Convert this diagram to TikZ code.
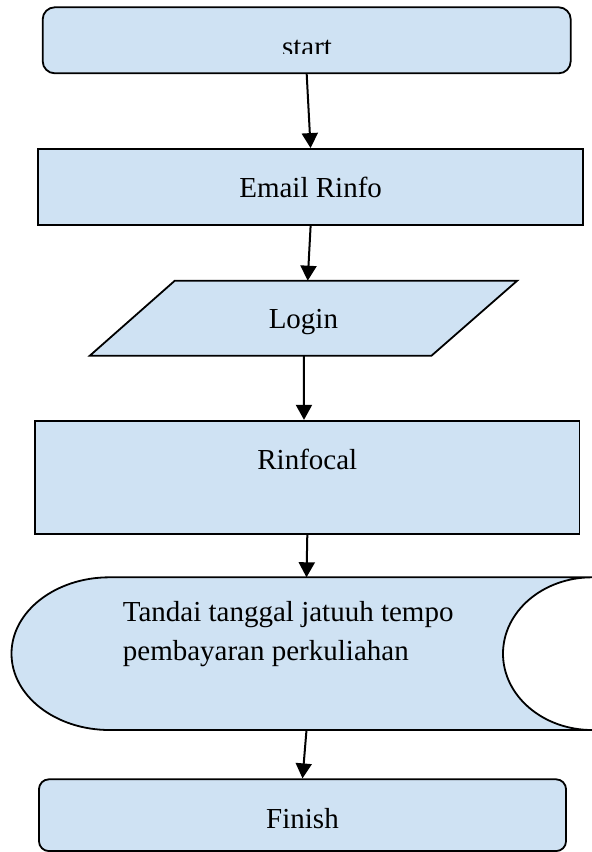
\documentclass[tikz,border=0pt]{standalone}
\usepackage{fontspec}
\setmainfont{Liberation Serif}
\usepackage{tikz}
\usetikzlibrary{arrows.meta}
\definecolor{boxblue}{RGB}{207,226,243}
\tikzset{
	box/.style={draw=black, fill=boxblue, line width=1.8pt},
	procbox/.style={box, rectangle, inner sep=0pt, text height=20pt, text depth=0pt},
	termbox/.style={procbox, rounded corners=12pt},
	arr/.style={-{Triangle[width=16pt,length=15pt]}, line width=2pt},
}
\begin{document}
\begin{tikzpicture}[x=1pt, y=-1pt, font=\fontsize{29}{38.3}\selectfont]
			%%%%% START %%%%%
			\useasboundingbox (0, 0) rectangle (592, 852);
			
			\node[termbox, minimum width=528pt, minimum height=66pt] (start) at (306.7, 40.3) {};
			\begin{scope}
				\clip (250, 30) rectangle (370, 53.3);
				\node[anchor=base, inner sep=0pt] (starttext) at (307, 56) {start};
			\end{scope}
			
			\node[procbox, minimum width=544.7pt, minimum height=76pt] (email) at (310.6, 187) {Email Rinfo};
			
			\draw[box] (174.8, 280.7) -- (517.2, 280.7) -- (431.5, 355.7) -- (89.8, 355.7) -- cycle;
			\node[inner sep=0pt, text height=20pt, text depth=0pt] (login) at (303.4, 318.2) {Login};
			\coordinate (logintop) at (307.7, 280.7);
			\coordinate (loginbot) at (303.9, 355.7);
			
			\node[procbox, text depth=35pt, minimum width=544.5pt, minimum height=113.3pt] (rinfocal) at (307.3, 477.4) {Rinfocal};
			
			\draw[box] (109.5, 577.3) -- (592, 577.3) arc[start angle=270, end angle=90, x radius=89, y radius=76.35]
				-- (109.5, 730) arc[start angle=90, end angle=270, x radius=98, y radius=76.35] -- cycle;
			\node[anchor=base west, align=left, inner sep=0pt] (tandai) at (122.7, 660) {Tandai tanggal jatuuh tempo\\pembayaran perkuliahan};
			\coordinate (storetop) at (306.5, 577.3);
			\coordinate (storebot) at (306.5, 730);
			
			\node[termbox, rounded corners=10pt, text height=26pt, minimum width=527.1pt, minimum height=71.8pt] (finish) at (302.5, 815.2) {Finish};
			
			\draw[arr] (start.south) -- (email.north);
			\draw[arr] (email.south) -- (logintop);
			\draw[arr] (loginbot) -- ([xshift=-3.3pt]rinfocal.north);
			\draw[arr] (rinfocal.south) -- (storetop);
			\draw[arr] (storebot) -- (finish.north);
			
			%%%%% END %%%%%
\end{tikzpicture}
\end{document}
